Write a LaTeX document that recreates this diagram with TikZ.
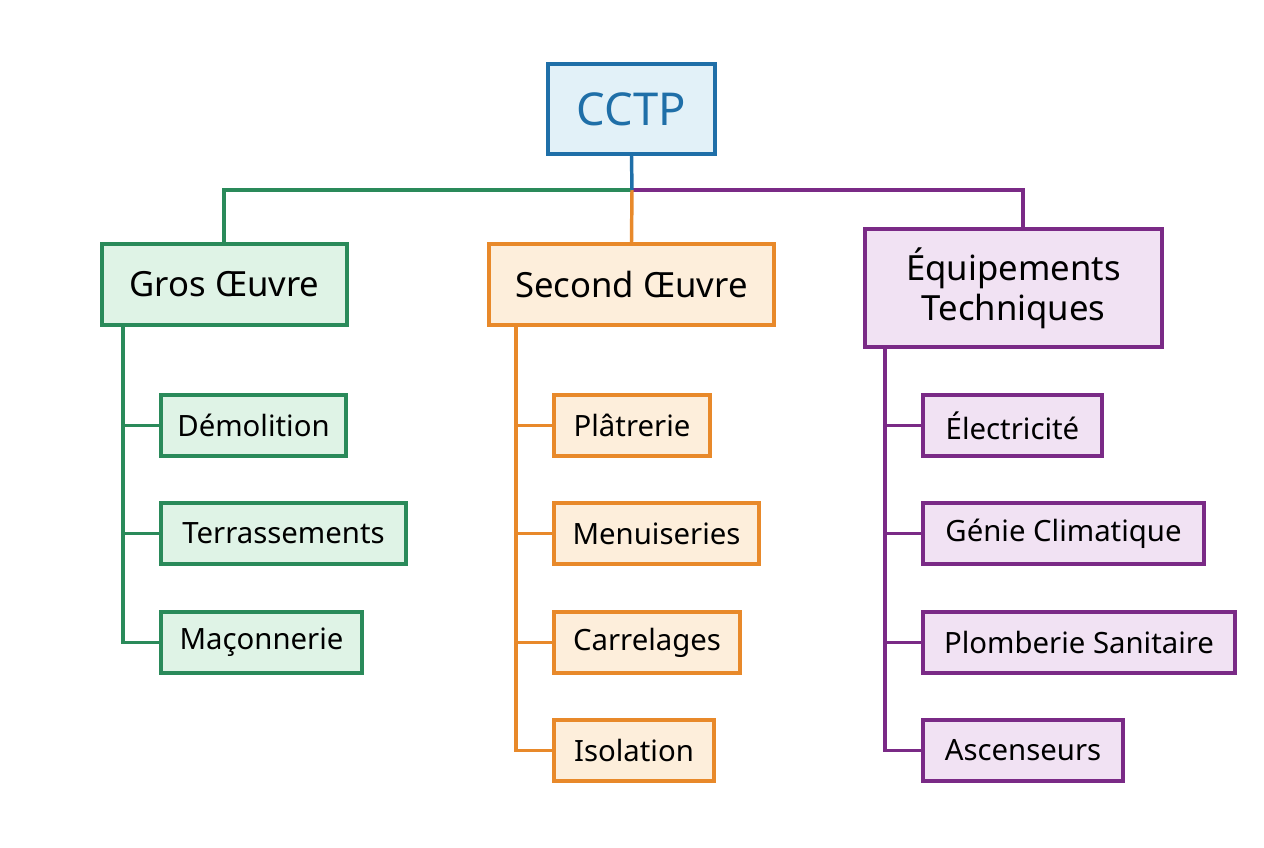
\documentclass[tikz,border=0pt]{standalone}
\usepackage{fontspec}
\setmainfont{Noto Sans}
\definecolor{gr}{HTML}{2A8A5A}\definecolor{grf}{HTML}{DFF3E6}
\definecolor{or}{HTML}{E8892A}\definecolor{orf}{HTML}{FDEEDB}
\definecolor{pu}{HTML}{7A2A86}\definecolor{puf}{HTML}{F1E2F3}
\definecolor{bl}{HTML}{1F6FA8}\definecolor{blf}{HTML}{E2F1F8}
\begin{document}
\begin{tikzpicture}[x=0.75pt,y=-0.75pt,line width=2.6pt,
 box/.style={draw,rectangle,inner sep=0pt,align=center,text=black,line width=2.6pt},
 leaf/.style={box,font=\fontsize{22}{25}\selectfont},
 mid/.style={box,font=\fontsize{26}{29}\selectfont},
 G/.style={draw=gr,fill=grf},O/.style={draw=or,fill=orf},P/.style={draw=pu,fill=puf}]
\useasboundingbox (0,0) rectangle (1264,848);
\newcommand{\bx}[6]{\node[#1,minimum width={(#4-#3)*0.75pt},minimum height={(#6-#5)*0.75pt}] (#2) at ({(#3+#4)/2},{(#5+#6)/2})}
\bx{box,draw=bl,fill=blf,text=bl,font=\fontsize{34}{37}\selectfont}{root}{548}{715}{64}{154}{CCTP};
\bx{mid,G}{g}{102}{347}{244}{325}{Gros Œuvre};
\bx{mid,O}{s}{489}{774}{244}{325}{Second Œuvre};
\bx{mid,P}{e}{865}{1162}{229}{347}{Équipements\\[1pt]Techniques};
\bx{leaf,G}{g1}{161}{346}{395}{456}{Démolition};
\bx{leaf,G}{g2}{161}{406}{503}{564}{Terrassements};
\bx{leaf,G}{g3}{161}{362}{612}{673}{Maçonnerie};
\bx{leaf,O}{s1}{554}{710}{395}{456}{Plâtrerie};
\bx{leaf,O}{s2}{554}{759}{503}{564}{Menuiseries};
\bx{leaf,O}{s3}{554}{740}{612}{673}{Carrelages};
\bx{leaf,O}{s4}{554}{714}{720}{781}{Isolation};
\bx{leaf,P}{e1}{923}{1102}{395}{456}{Électricité};
\bx{leaf,P}{e2}{923}{1204}{503}{564}{Génie Climatique};
\bx{leaf,P}{e3}{923}{1235}{612}{673}{Plomberie Sanitaire};
\bx{leaf,P}{e4}{923}{1123}{720}{781}{Ascenseurs};
\coordinate (bus) at (632,190);
\draw[gr] (bus) -| (224,244);
\draw[pu] (bus) -| (1023,229);
\draw[or] (bus) -- (s.north);
\draw[bl] (root.south) -- (bus);
\foreach \n in {g1,g2,g3} \draw[gr] (123,325) |- (\n.west);
\foreach \n in {s1,s2,s3,s4} \draw[or] (516,325) |- (\n.west);
\foreach \n in {e1,e2,e3,e4} \draw[pu] (885,347) |- (\n.west);
\end{tikzpicture}
\end{document}
